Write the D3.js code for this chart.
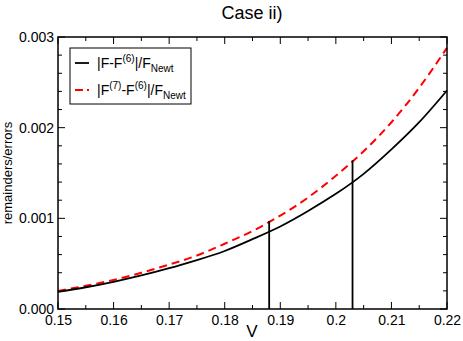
<!DOCTYPE html>
<html>
<head>
<meta charset="utf-8">
<script src="https://cdn.jsdelivr.net/npm/d3@7"></script>
<style>
  body { margin: 0; background: #fff; }
  text { font-family: "Liberation Sans", Arial, sans-serif; }
</style>
</head>
<body>
<script>
// values
var V = [0.15, 0.155, 0.16, 0.165, 0.17, 0.175, 0.18, 0.185, 0.19, 0.195, 0.2, 0.205, 0.21, 0.215, 0.22];
var errF6 = [0.00019, 0.00024, 0.00030, 0.00037, 0.00045, 0.00054, 0.00064, 0.00077, 0.00091, 0.00108, 0.00127, 0.00149, 0.00176, 0.00206, 0.00241];
var errF7F6 = [0.00020, 0.000256, 0.00032, 0.00040, 0.00049, 0.00059, 0.00072, 0.00086, 0.00103, 0.00123, 0.00147, 0.00174, 0.00206, 0.00244, 0.00288];
var markV = [0.188, 0.203];
var markTop = [0.00097, 0.00164];
var xTicks = [0.15, 0.16, 0.17, 0.18, 0.19, 0.2, 0.21, 0.22];
var xTickLabels = ["0.15", "0.16", "0.17", "0.18", "0.19", "0.2", "0.21", "0.22"];
var yTicks = [0, 0.001, 0.002, 0.003];
var yTickLabels = ["0.000", "0.001", "0.002", "0.003"];

var W = 463, H = 341;
var m = {left: 58, right: 447, top: 37, bottom: 309};

var svg = d3.select("body").append("svg")
  .attr("width", W).attr("height", H);

var x = d3.scaleLinear().domain([0.15, 0.22]).range([m.left, m.right]);
var y = d3.scaleLinear().domain([0, 0.003]).range([m.bottom, m.top]);

// ticks, pointing inward on all four sides
function tickAxes() {
  var minorX = d3.range(0.15, 0.2201, 0.005), minorY = d3.range(0, 0.00301, 0.0002);
  var g = svg.append("g").attr("stroke", "#000").attr("stroke-width", 1);
  minorX.forEach(function (v) {
    var major = Math.abs(v * 100 - Math.round(v * 100)) < 1e-6, len = major ? 7 : 4;
    g.append("line").attr("x1", x(v)).attr("x2", x(v)).attr("y1", m.bottom).attr("y2", m.bottom - len);
    g.append("line").attr("x1", x(v)).attr("x2", x(v)).attr("y1", m.top).attr("y2", m.top + len);
  });
  minorY.forEach(function (v) {
    var major = Math.abs(v * 1000 - Math.round(v * 1000)) < 1e-6, len = major ? 7 : 4;
    g.append("line").attr("y1", y(v)).attr("y2", y(v)).attr("x1", m.left).attr("x2", m.left + len);
    g.append("line").attr("y1", y(v)).attr("y2", y(v)).attr("x1", m.right).attr("x2", m.right - len);
  });
}
tickAxes();

var xAxis = d3.axisBottom(x).tickValues(xTicks).tickSize(0).tickPadding(6)
  .tickFormat(function (d, i) { return xTickLabels[i]; });
svg.append("g").attr("transform", "translate(0," + m.bottom + ")").call(xAxis)
  .call(function (g) { g.select(".domain").remove(); })
  .selectAll("text").attr("font-size", 14).attr("fill", "#000")
  .attr("font-family", "Liberation Sans, Arial, sans-serif");

var yAxis = d3.axisLeft(y).tickValues(yTicks).tickSize(0).tickPadding(4)
  .tickFormat(function (d, i) { return yTickLabels[i]; });
svg.append("g").attr("transform", "translate(" + m.left + ",0)").call(yAxis)
  .call(function (g) { g.select(".domain").remove(); })
  .selectAll("text").attr("font-size", 14).attr("fill", "#000")
  .attr("font-family", "Liberation Sans, Arial, sans-serif");

var line = d3.line().x(function (d) { return x(d[0]); }).y(function (d) { return y(d[1]); })
  .curve(d3.curveNatural);

svg.append("path").datum(V.map(function (v, i) { return [v, errF7F6[i]]; }))
  .attr("d", line).attr("fill", "none").attr("stroke", "#ff0000")
  .attr("stroke-width", 2).attr("stroke-dasharray", "8,5");

svg.append("path").datum(V.map(function (v, i) { return [v, errF6[i]]; }))
  .attr("d", line).attr("fill", "none").attr("stroke", "#000").attr("stroke-width", 1.8);

// vertical markers
markV.forEach(function (v, i) {
  svg.append("line").attr("x1", x(v)).attr("x2", x(v))
    .attr("y1", y(0)).attr("y2", y(markTop[i]))
    .attr("stroke", "#000").attr("stroke-width", 1.8);
});

// frame
svg.append("rect").attr("x", m.left).attr("y", m.top)
  .attr("width", m.right - m.left).attr("height", m.bottom - m.top)
  .attr("fill", "none").attr("stroke", "#000").attr("stroke-width", 1.5);

// legend
var lg = svg.append("g");
lg.append("rect").attr("x", 70).attr("y", 48).attr("width", 121).attr("height", 56)
  .attr("fill", "#fff").attr("stroke", "#000").attr("stroke-width", 1);
lg.append("line").attr("x1", 75).attr("x2", 89).attr("y1", 63).attr("y2", 63)
  .attr("stroke", "#000").attr("stroke-width", 1.8);
lg.append("line").attr("x1", 75).attr("x2", 89).attr("y1", 90).attr("y2", 90)
  .attr("stroke", "#ff0000").attr("stroke-width", 2).attr("stroke-dasharray", "8,4");

function legendText(yy, parts) {
  var t = lg.append("text").attr("x", 97).attr("y", yy).attr("font-size", 14);
  parts.forEach(function (p) {
    var s = t.append("tspan").text(p[0]);
    if (p[1] == "sup") s.attr("font-size", 10).attr("dy", -6);
    else if (p[1] == "sub") s.attr("font-size", 10).attr("dy", 4);
    else if (p[1] == "back") s.attr("dy", p[2]);
  });
}
legendText(68, [["|F-F"], ["(6)", "sup"], ["|/F", "back", 6], ["Newt", "sub"]]);
legendText(95, [["|F"], ["(7)", "sup"], ["-F", "back", 6], ["(6)", "sup"], ["|/F", "back", 6], ["Newt", "sub"]]);

// titles
svg.append("text").attr("x", 252).attr("y", 19).attr("text-anchor", "middle")
  .attr("font-size", 18).text("Case ii)");
svg.append("text").attr("x", 252).attr("y", 337).attr("text-anchor", "middle")
  .attr("font-size", 17).text("V");
svg.append("text").attr("transform", "translate(12," + ((m.top + m.bottom) / 2) + ") rotate(-90)")
  .attr("text-anchor", "middle").attr("font-size", 13).text("remainders/errors");
</script>
</body>
</html>
